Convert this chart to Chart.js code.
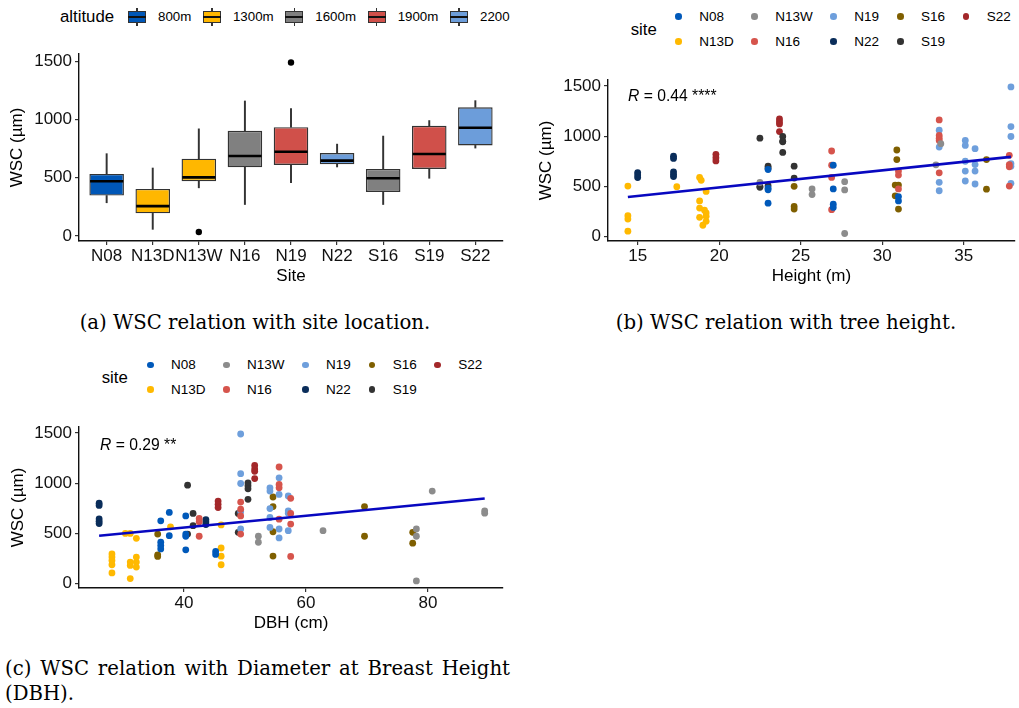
<!DOCTYPE html>
<html>
<head>
<meta charset="utf-8">
<title>WSC relations</title>
<script src="https://cdn.jsdelivr.net/npm/chart.js@4.4.1/dist/chart.umd.min.js"></script>
<style>
  body { margin: 0; width: 1019px; height: 708px; background: #fff; position: relative; overflow: hidden;
         font-family: "Liberation Sans", Arial, sans-serif; color: #000; }
  .panel { position: absolute; }
  .legtitle { position: absolute; font-size: 16.8px; line-height: 20px; white-space: nowrap; }
  .altlegend { position: absolute; display: flex; align-items: center; font-size: 13.3px; height: 20px; }
  .altlegend .title { width: 68px; font-size: 16.8px; }
  .altkey { position: relative; width: 18px; height: 20px; margin-right: 12px; }
  .altkey .wh { position: absolute; left: 8.4px; top: 1px; width: 1.2px; height: 18px; background: #333; }
  .altkey .bx { position: absolute; left: 0; top: 4.5px; width: 18px; height: 11.5px; box-sizing: border-box; border: 1.4px solid #333; }
  .altkey .md { position: absolute; left: 0; top: 9.4px; width: 18px; height: 1.6px; background: #111; }
  .altlegend .lab { margin-right: 11.7px; }
  .sitelegend { position: absolute; display: grid; grid-template-columns: 76px 79px 66.7px 65.7px 60px;
                grid-template-rows: 24.6px 24.6px; grid-auto-flow: column; font-size: 13.5px; }
  .sitelegend .item { display: flex; align-items: center; }
  .sitelegend .dot { width: 6.6px; height: 6.6px; border-radius: 50%; margin-right: 17.4px; }
  .rlabel { position: absolute; font-size: 15.7px; line-height: 20px; white-space: nowrap; }
  .caption { position: absolute; font-family: "DejaVu Serif", serif; font-size: 19.7px; line-height: 25px; white-space: nowrap; }
</style>
</head>
<body>

<div class="altlegend" id="legendA" style="left:60px; top:6.7px;"><span class="title">altitude</span></div>
<div class="panel" style="left:0px; top:40px; width:515px; height:260px;"><canvas id="chartSite"></canvas></div>

<div class="legtitle" style="left:630.7px; top:20px;">site</div>
<div class="sitelegend" id="legendB" style="left:675.3px; top:4.4px;"></div>
<div class="panel" style="left:520px; top:60px; width:499px; height:240px;"><canvas id="chartHeight"></canvas></div>
<div class="rlabel" style="left:628px; top:86px;"><i>R</i> = 0.44 ****</div>

<div class="legtitle" style="left:101.7px; top:367.7px;">site</div>
<div class="sitelegend" id="legendC" style="left:147px; top:352.7px;"></div>
<div class="panel" style="left:0px; top:400px; width:515px; height:245px;"><canvas id="chartDbh"></canvas></div>
<div class="rlabel" style="left:100px; top:435px;"><i>R</i> = 0.29 **</div>

<div class="caption" style="left:255px; top:310px; transform:translateX(-50%);">(a) WSC relation with site location.</div>
<div class="caption" style="left:786px; top:310px; transform:translateX(-50%);">(b) WSC relation with tree height.</div>
<div class="caption" style="left:5px; top:655.5px; width:505px; text-align:justify; text-align-last:justify; white-space:normal;">(c) WSC relation with Diameter at Breast Height</div>
<div class="caption" style="left:5px; top:680.5px;">(DBH).</div>

<script>
// sites and colours
const sites = ['N08', 'N13D', 'N13W', 'N16', 'N19', 'N22', 'S16', 'S19', 'S22'];
const siteColors = ['#0059ba', '#ffb900', '#8c8c8c', '#d6544c', '#6e9fdc', '#0a2d5a', '#7f5f00', '#333333', '#a3282a'];
const altitudes = ['800m', '1300m', '1600m', '1900m', '2200'];
const altitudeColors = ['#0057b7', '#ffb700', '#808080', '#d0504a', '#6c9dda'];
const siteAltitude = ['800m', '1300m', '1300m', '1600m', '1900m', '2200', '1600m', '1900m', '2200'];

// boxplot stats, panel (a)
const wscLow    = [285,  57, 413,  270,  458, 592, 270, 495,  754];
const wscQ1     = [347, 194, 470,  589,  609, 615, 378, 575,  777];
const wscMedian = [470, 256, 503,  686,  723, 646, 495, 703,  928];
const wscQ3     = [532, 404, 663,  902,  933, 711, 575, 945, 1104];
const wscHigh   = [706, 583, 919, 1158, 1093, 788, 857, 990, 1161];
const outlierSites = ['N13W', 'N19'];
const outlierWsc = [34, 1488];

const wscTicks = [0, 500, 1000, 1500];
const heightTicks = [15, 20, 25, 30, 35];
const dbhTicks = [40, 60, 80];

// [height (m), WSC] per site, panel (b)
const heightN08 = [[23.0,668],[23.0,481],[23.0,465],[23.0,332],[27.0,711],[27.0,474],[27.0,322],[27.0,290],[31.0,398],[31.0,355]];
const heightN13D = [[14.4,503],[14.4,207],[14.4,174],[14.4,53],[17.4,497],[18.8,589],[18.9,560],[19.2,449],[18.8,355],[18.8,283],
                    [19.1,262],[19.2,234],[18.8,191],[19.2,201],[19.2,151],[19.0,112]];
const heightN13W = [[22.5,538],[25.7,474],[25.7,418],[27.7,546],[27.7,464],[27.7,30],[33.3,714],[33.6,925]];
const heightN16 = [[26.9,852],[26.9,711],[26.9,589],[26.9,267],[31.0,652],[31.0,612],[31.0,474],[33.5,1162],[33.5,1007],
                   [33.5,980],[33.5,957],[33.5,635],[37.8,809],[37.8,717],[37.8,694],[37.8,503]];
const heightN19 = [[33.5,1060],[33.5,891],[33.5,540],[33.5,456],[35.1,957],[35.1,908],[35.1,750],[35.1,652],[35.1,553],
                   [35.7,875],[35.7,717],[35.7,652],[35.7,523],[37.9,1491],[37.9,1096],[37.9,997],[37.9,727],[37.9,701],[37.9,530]];
const heightN22 = [[15.0,637],[15.0,612],[15.0,587],[17.2,800],[17.2,778],[17.2,645],[17.2,620],[17.2,597]];
const heightS16 = [[24.6,500],[24.6,299],[24.6,273],[30.9,862],[30.9,767],[30.8,513],[31.0,513],[30.8,405],[31.0,273],[36.4,767],[36.4,472]];
const heightS19 = [[22.5,980],[22.5,500],[22.5,490],[23.0,701],[23.0,680],[23.0,506],[23.9,997],[23.9,950],[23.9,944],[23.9,838],[24.6,701],[24.6,582]];
const heightS22 = [[19.8,819],[19.8,786],[19.8,753],[23.7,1172],[23.7,1145],[23.7,1122],[23.7,1046]];

// [DBH (cm), WSC] per site, panel (c)
const dbhN08 = [[36.2,625],[36.2,411],[36.2,378],[36.2,345],[37.6,708],[37.6,477],[40.3,674],[40.3,493],[40.3,470],[40.3,336],[45.2,319],[45.2,290]];
const dbhN13D = [[28.2,295],[28.2,263],[28.2,230],[28.2,187],[28.2,105],[30.4,499],[31.2,499],[31.2,213],[31.2,180],[31.2,49],
                 [32.2,450],[32.2,263],[32.2,213],[32.2,164],[37.8,565],[46.1,584],[46.1,354],[46.1,272],[46.1,187]];
const dbhN13W = [[52.2,471],[52.2,411],[62.8,526],[80.7,921],[78.1,543],[78.1,471],[78.1,26],[89.3,724],[89.3,701]];
const dbhN16 = [[42.5,648],[42.5,615],[42.5,471],[49.3,812],[49.3,740],[49.3,674],[49.3,493],[55.6,1161],[55.6,987],[55.6,954],
                [55.6,641],[57.5,849],[57.5,698],[57.5,592],[57.5,270]];
const dbhN19 = [[49.3,1490],[49.3,1095],[49.3,997],[49.3,714],[49.3,543],[54.1,954],[54.1,921],[54.1,747],[54.1,658],[54.1,559],
                [55.6,1053],[55.6,888],[55.6,543],[55.6,454],[57.1,872],[57.1,724],[57.1,701],[57.1,526]];
const dbhN22 = [[26.1,800],[26.1,778],[26.1,645],[26.1,620],[26.1,597],[43.6,637],[43.6,612],[43.6,587]];
const dbhS16 = [[35.7,493],[35.7,286],[35.7,270],[54.6,862],[54.6,767],[54.6,516],[54.6,273],[69.6,767],[69.6,471],[77.5,510],[77.5,402]];
const dbhS19 = [[40.6,980],[41.5,698],[41.5,576],[40.6,493],[48.9,698],[48.9,510],[50.5,1003],[50.5,975],[50.5,944],[50.5,839]];
const dbhS22 = [[45.6,822],[45.6,789],[45.6,757],[51.6,1177],[51.6,1141],[51.6,1118],[51.6,1046]];

// linear fits (end points)
const heightFitX = [14.4, 37.9];
const heightFitY = [394, 794];
const dbhFitX = [26.1, 89.3];
const dbhFitY = [476, 847];

Chart.defaults.font.family = '"Liberation Sans", Arial, sans-serif';
Chart.defaults.animation = false;

const axisBorder = { display: true, color: '#111', width: 1.4 };

function tickGrid() {
    return { display: true, drawOnChartArea: false, drawTicks: true, tickLength: 4, color: '#333', lineWidth: 1.2, offset: false };
}

function wscAxis(min, max, width, titlePad) {
    return {
        type: 'linear', min: min, max: max,
        afterBuildTicks: s => { s.ticks = wscTicks.map(v => ({ value: v })); },
        afterFit: s => { s.width = width; },
        grid: tickGrid(),
        border: axisBorder,
        ticks: { color: '#111', font: { size: 17 }, padding: 3, callback: v => String(v) },
        title: { display: true, text: 'WSC (µm)', color: '#000', font: { size: 17 }, padding: { top: titlePad, bottom: 0 } }
    };
}

function bottomAxis(min, max, tickValues, height, title, titlePad, labelFn) {
    return {
        type: 'linear', min: min, max: max, offset: false,
        afterBuildTicks: s => { s.ticks = tickValues.map(v => ({ value: v })); },
        afterFit: s => { s.height = height; },
        grid: tickGrid(),
        border: axisBorder,
        ticks: { color: '#111', font: { size: 17 }, padding: 1, autoSkip: false, maxRotation: 0,
                 callback: labelFn || (v => String(v)) },
        title: { display: true, text: title, color: '#000', font: { size: 17 }, padding: { top: 0, bottom: titlePad } }
    };
}

// median lines drawn across each box
const medianPlugin = {
    id: 'medians',
    afterDatasetsDraw(chart) {
        const meta = chart.getDatasetMeta(0);
        const y = chart.scales.y;
        const ctx = chart.ctx;
        ctx.save();
        ctx.strokeStyle = '#000';
        ctx.lineWidth = 2.6;
        meta.data.forEach((bar, i) => {
            const py = y.getPixelForValue(wscMedian[i]);
            ctx.beginPath();
            ctx.moveTo(bar.x - bar.width / 2 + 0.7, py);
            ctx.lineTo(bar.x + bar.width / 2 - 0.7, py);
            ctx.stroke();
        });
        ctx.restore();
    }
};

// panel (a): boxplots by site
const siteIdx = sites.map((s, i) => i);
new Chart(document.getElementById('chartSite'), {
    type: 'bar',
    data: {
        datasets: [
            {
                label: 'box',
                data: siteIdx.map(i => ({ x: i, y: [wscQ1[i], wscQ3[i]] })),
                backgroundColor: siteAltitude.map(a => altitudeColors[altitudes.indexOf(a)]),
                borderColor: '#333', borderWidth: 1.4, borderSkipped: false,
                barPercentage: 0.75, categoryPercentage: 1, grouped: false, order: 1
            },
            {
                label: 'lower whisker',
                data: siteIdx.map(i => ({ x: i, y: [wscLow[i], wscQ1[i]] })),
                backgroundColor: '#333', barThickness: 1.3, grouped: false, order: 2
            },
            {
                label: 'upper whisker',
                data: siteIdx.map(i => ({ x: i, y: [wscQ3[i], wscHigh[i]] })),
                backgroundColor: '#333', barThickness: 1.3, grouped: false, order: 2
            },
            {
                type: 'scatter', label: 'outliers',
                data: outlierSites.map((s, k) => ({ x: sites.indexOf(s), y: outlierWsc[k] })),
                backgroundColor: '#000', borderWidth: 0, pointRadius: 3.2, order: 0
            }
        ]
    },
    options: {
        responsive: true,
        maintainAspectRatio: false,
        events: [],
        layout: { padding: { top: 14, right: 12, left: 0, bottom: 0 } },
        plugins: { legend: { display: false }, tooltip: { enabled: false } },
        scales: {
            x: bottomAxis(-0.6, 8.6, siteIdx, 59, 'Site', 13, v => sites[v]),
            y: wscAxis(-43, 1561, 79, 7.3)
        }
    },
    plugins: [medianPlugin]
});

function scatterPanel(canvasId, pairs, fitX, fitY, xMin, xMax, xTicks, xTitle, yWidth, yTitlePad, xHeight, xTitlePad, pad) {
    const datasets = sites.map((s, i) => ({
        type: 'scatter', label: s,
        data: pairs[i].map(p => ({ x: p[0], y: p[1] })),
        backgroundColor: siteColors[i], borderWidth: 0, pointRadius: 3.4, order: 1
    }));
    datasets.push({
        type: 'line', label: 'fit',
        data: fitX.map((x, i) => ({ x: x, y: fitY[i] })),
        borderColor: '#0808c0', borderWidth: 2.6, pointRadius: 0, fill: false, order: 0
    });
    new Chart(document.getElementById(canvasId), {
        type: 'scatter',
        data: { datasets: datasets },
        options: {
            responsive: true,
            maintainAspectRatio: false,
            events: [],
            layout: { padding: pad },
            plugins: { legend: { display: false }, tooltip: { enabled: false } },
            scales: {
                x: bottomAxis(xMin, xMax, xTicks, xHeight, xTitle, xTitlePad),
                y: wscAxis(-45, 1560, yWidth, yTitlePad)
            }
        }
    });
}

// panel (b): WSC vs height
scatterPanel('chartHeight',
    [heightN08, heightN13D, heightN13W, heightN16, heightN19, heightN22, heightS16, heightS19, heightS22],
    heightFitX, heightFitY, 13.18, 38.15, heightTicks, 'Height (m)', 88, 16.5, 59, 13,
    { top: 20, right: 0, left: 0, bottom: 0 });

// panel (c): WSC vs DBH
scatterPanel('chartDbh',
    [dbhN08, dbhN13D, dbhN13W, dbhN16, dbhN19, dbhN22, dbhS16, dbhS19, dbhS22],
    dbhFitX, dbhFitY, 22.8, 92.3, dbhTicks, 'DBH (cm)', 79, 8.1, 57, 11,
    { top: 27, right: 12, left: 0, bottom: 0 });

// legends
const legendA = document.getElementById('legendA');
altitudes.forEach((a, i) => {
    const key = document.createElement('span');
    key.className = 'altkey';
    key.innerHTML = '<span class="wh"></span><span class="bx" style="background:' + altitudeColors[i] +
        '"></span><span class="md"></span>';
    const lab = document.createElement('span');
    lab.className = 'lab';
    lab.textContent = a;
    legendA.appendChild(key);
    legendA.appendChild(lab);
});

['legendB', 'legendC'].forEach(id => {
    const el = document.getElementById(id);
    sites.forEach((s, i) => {
        const item = document.createElement('div');
        item.className = 'item';
        item.innerHTML = '<span class="dot" style="background:' + siteColors[i] + '"></span><span>' + s + '</span>';
        el.appendChild(item);
    });
});
</script>
</body>
</html>
